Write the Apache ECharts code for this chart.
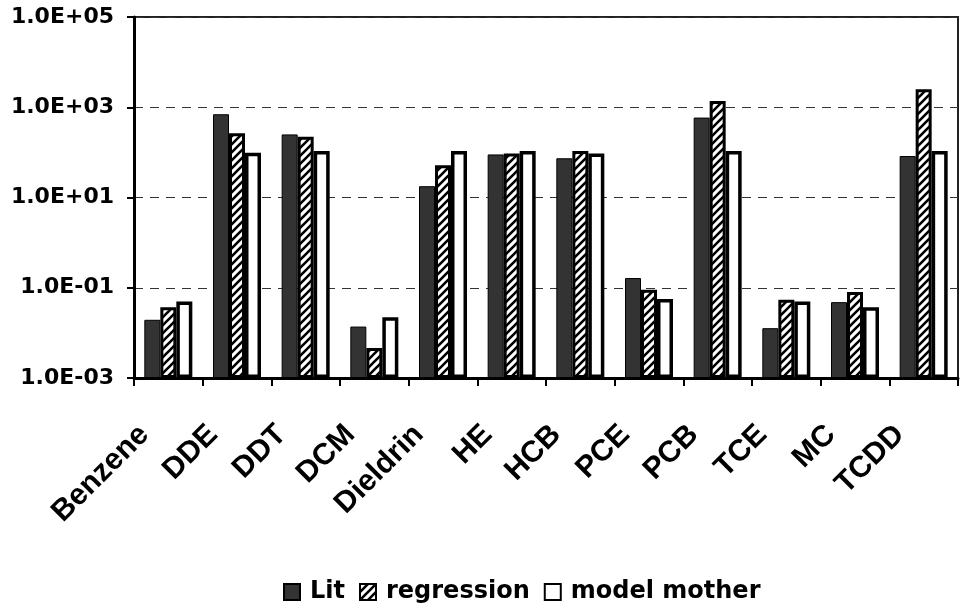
<!DOCTYPE html>
<html>
<head>
<meta charset="utf-8">
<script src="https://cdn.jsdelivr.net/npm/echarts@6/dist/echarts.min.js"></script>
<style>html,body{margin:0;padding:0;background:#fff}#c{width:961px;height:611px}</style>
</head>
<body>
<div id="c"></div>
<script>
const categories = ['Benzene','DDE','DDT','DCM','Dieldrin','HE','HCB','PCE','PCB','TCE','MC','TCDD'];
const litValues = [0.0195, 700, 250, 0.0138, 17.8, 90, 74, 0.164, 590, 0.0127, 0.048, 83];
const regressionValues = [0.037, 264, 223, 0.0046, 52, 95, 107, 0.090, 1380, 0.054, 0.080, 2510];
const modelMotherValues = [0.0497, 98, 107, 0.0223, 107, 107, 95, 0.056, 107, 0.0497, 0.037, 107];
const seriesNames = ['Lit', 'regression', 'model mother'];

const FONT = '"DejaVu Sans", Arial, sans-serif';
const FONT_X = '"Liberation Sans", Arial, sans-serif';

function hatch() {
  const c = document.createElement('canvas');
  c.width = 8; c.height = 8;
  const g = c.getContext('2d');
  g.fillStyle = '#fff'; g.fillRect(0, 0, 8, 8);
  g.strokeStyle = '#000'; g.lineWidth = 2.6;
  g.beginPath();
  g.moveTo(-1, 9); g.lineTo(9, -1);
  g.moveTo(-5, 5); g.lineTo(5, -5);
  g.moveTo(3, 13); g.lineTo(13, 3);
  g.stroke();
  return c;
}

function fmt(v) {
  const e = Math.round(Math.log10(v));
  return '1.0E' + (e < 0 ? '-' : '+') + String(Math.abs(e)).padStart(2, '0');
}

const chart = echarts.init(document.getElementById('c'), null, {renderer: 'canvas'});
chart.setOption({
  animation: false,
  backgroundColor: '#fff',
  grid: {left: 134, right: 3, top: 17, bottom: 233, show: true, borderColor: '#222', borderWidth: 2, backgroundColor: 'transparent'},
  legend: {
    left: 278, top: 575,
    icon: 'rect',
    itemWidth: 16, itemHeight: 16, itemGap: 14,
    textStyle: {fontFamily: FONT, fontWeight: 'bold', fontSize: 24, color: '#000', padding: [0, 0, 0, 5]},
    data: seriesNames
  },
  xAxis: {
    type: 'category',
    data: categories,
    axisLine: {onZero: false, lineStyle: {color: '#000', width: 3}},
    axisTick: {show: true, length: 8, lineStyle: {color: '#000', width: 2}},
    axisLabel: {rotate: 45, interval: 0, margin: 28, padding: [0, 34, 0, 0], fontFamily: FONT_X, fontWeight: 'bold', fontSize: 30, color: '#000'},
    splitLine: {show: false}
  },
  yAxis: {
    type: 'log',
    logBase: 10,
    min: 0.001,
    max: 100000,
    startValue: 0.001,
    interval: 2,
    axisLine: {show: true, lineStyle: {color: '#000', width: 3}},
    axisTick: {show: true, length: 7, lineStyle: {color: '#000', width: 2}},
    minorTick: {show: false},
    axisLabel: {formatter: fmt, margin: 20, fontFamily: FONT, fontWeight: 'bold', fontSize: 22, color: '#000'},
    splitLine: {show: true, lineStyle: {color: '#333', width: 1, type: [9, 7]}}
  },
  series: [
    {name: seriesNames[0], type: 'bar', data: litValues, barWidth: 16, barGap: '0%',
     itemStyle: {color: '#333333', borderColor: '#000', borderWidth: 1}},
    {name: seriesNames[1], type: 'bar', data: regressionValues, barWidth: 16, barGap: '0%',
     itemStyle: {color: {image: hatch(), repeat: 'repeat'}, borderColor: '#000', borderWidth: 3}},
    {name: seriesNames[2], type: 'bar', data: modelMotherValues, barWidth: 16, barGap: '0%',
     itemStyle: {color: '#fff', borderColor: '#000', borderWidth: 3.5}}
  ]
});
</script>
</body>
</html>
